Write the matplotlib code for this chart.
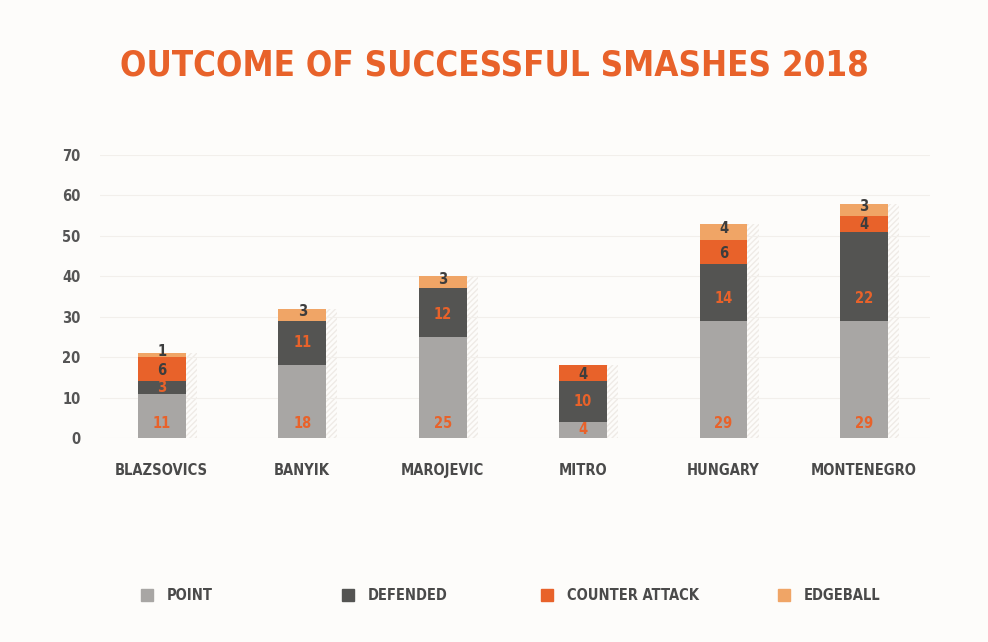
import matplotlib
matplotlib.use("Agg")
import matplotlib.pyplot as plt
from matplotlib.patches import Rectangle
import numpy as np

# data
players = ["BLAZSOVICS", "BANYIK", "MAROJEVIC", "MITRO", "HUNGARY", "MONTENEGRO"]
point = [11, 18, 25, 4, 29, 29]
defended = [3, 11, 12, 10, 14, 22]
counter = [6, 0, 0, 4, 6, 4]
edgeball = [1, 3, 3, 0, 4, 3]
series_names = ["POINT", "DEFENDED", "COUNTER ATTACK", "EDGEBALL"]
y_ticks = [0, 10, 20, 30, 40, 50, 60, 70]

colors = ["#a8a6a4", "#545452", "#e8622a", "#f0a566"]
label_colors = ["#e8622a", "#e8622a", "#3d3d3d", "#3d3d3d"]
BG = "#fdfcfa"

plt.rcParams["font.family"] = ["DejaVu Sans"]
plt.rcParams["font.stretch"] = "condensed"
plt.rcParams["font.weight"] = "bold"

fig = plt.figure(figsize=(9.88, 6.42), dpi=100, facecolor=BG)
ax = fig.add_axes([100 / 988, 1 - 438 / 642, 830 / 988, 283 / 642])
ax.set_facecolor(BG)

x = np.arange(len(players))
w = 0.34
bottom = np.zeros(len(players))
series = [point, defended, counter, edgeball]

# faint hatched shadow to the right of each bar
totals = np.sum(series, axis=0)
ax.bar(x + w / 2 + 0.04, totals, width=0.08, color="none",
       edgecolor="#efebe6", hatch="//////", linewidth=0, zorder=1)

for i, vals in enumerate(series):
    vals = np.array(vals, dtype=float)
    ax.bar(x, vals, width=w, bottom=bottom, color=colors[i], zorder=2)
    for j, v in enumerate(vals):
        if v == 0:
            continue
        if i == 0:
            y = bottom[j] + min(3.5, v / 2)
        elif i == 1:
            y = bottom[j] + min(5.6, v / 2)
        elif i == 2:
            y = bottom[j] + v / 2 - 0.3
        else:
            y = bottom[j] + v / 2 + 0.8
        ax.text(x[j], y, f"{int(v)}", ha="center", va="center",
                fontsize=10.5, color=label_colors[i], zorder=3)
    bottom += vals

ax.set_ylim(0, 70)
ax.set_xlim(-0.44, 5.47)
ax.set_yticks(y_ticks)
ax.set_yticklabels([str(t) for t in y_ticks], fontsize=10.5, color="#555555")
ax.set_xticks(x)
ax.set_xticklabels(players, fontsize=10.5, color="#4a4a4a")
ax.tick_params(axis="y", length=0, pad=14)
ax.tick_params(axis="x", length=0, pad=18)
ax.grid(axis="y", color="#f2efeb", linewidth=0.8, zorder=0)
for s in ax.spines.values():
    s.set_visible(False)

fig.text(0.5, 1 - 66 / 642, "OUTCOME OF SUCCESSFUL SMASHES 2018",
         ha="center", va="center", fontsize=25, color="#e8622a", weight="bold")

# legend, placed by hand
leg_x = [141, 342, 541, 778]
for k, name in enumerate(series_names):
    fig.add_artist(Rectangle((leg_x[k] / 988, 1 - 601 / 642), 12 / 988, 12 / 642,
                             transform=fig.transFigure, color=colors[k]))
    fig.text((leg_x[k] + 26) / 988, 1 - 595 / 642, name, ha="left", va="center",
             fontsize=10.5, color="#4a4a4a")

fig.savefig("out.png", dpi=100, facecolor=BG)
